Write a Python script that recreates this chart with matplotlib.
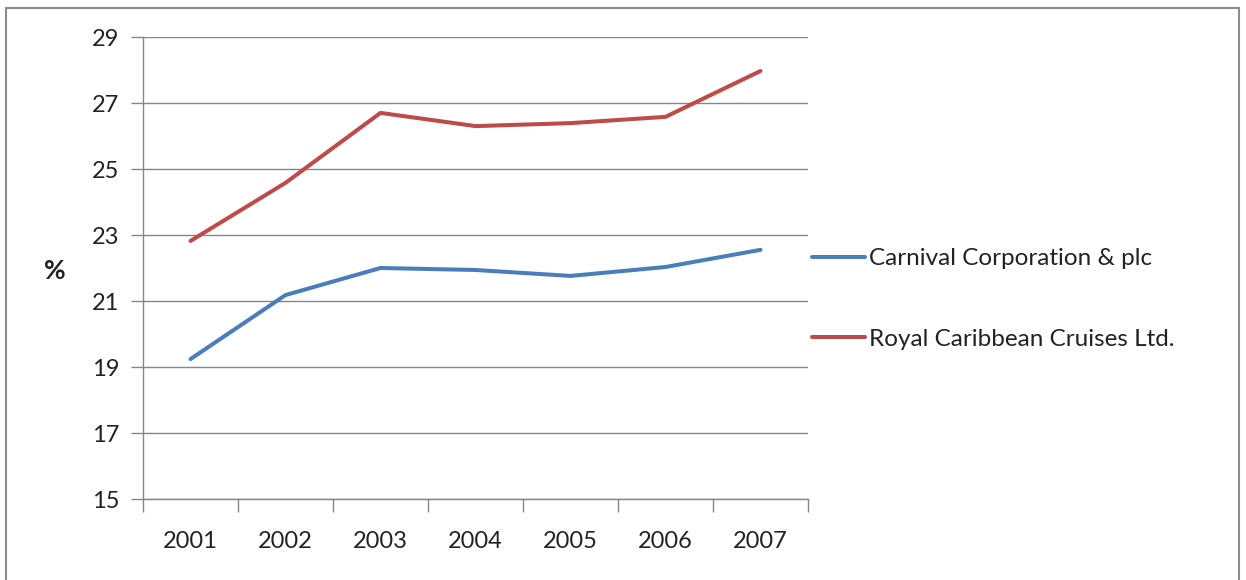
import matplotlib
matplotlib.use("Agg")
import matplotlib.pyplot as plt
from matplotlib.patches import Rectangle
from matplotlib.ticker import FixedLocator

years = ["2001", "2002", "2003", "2004", "2005", "2006", "2007"]
carnival = [19.24, 21.18, 22.0, 21.94, 21.76, 22.03, 22.55]
royal = [22.82, 24.58, 26.7, 26.3, 26.39, 26.58, 27.97]
series_names = ["Carnival Corporation & plc", "Royal Caribbean Cruises Ltd."]
y_ticks = [15, 17, 19, 21, 23, 25, 27, 29]

plt.rcParams['font.family'] = ['Lato', 'DejaVu Sans']

fig = plt.figure(figsize=(12.46, 5.8), dpi=100)
fig.patches.append(Rectangle((6/1246, -0.01), (1239-6)/1246, (580-8)/580 + 0.01,
                             transform=fig.transFigure, fill=False,
                             edgecolor='#8c8c8c', linewidth=1.5))

ax = fig.add_axes([143/1246, 81/580, 665/1246, 462/580])
x = list(range(len(years)))
l1, = ax.plot(x, carnival, color='#4a7ebb', linewidth=2.9, solid_capstyle='round')
l2, = ax.plot(x, royal, color='#be4b48', linewidth=2.9, solid_capstyle='round')

ax.set_xlim(-0.5, len(years) - 0.5)
ax.set_ylim(15, 29)
ax.set_yticks(y_ticks)
ax.set_yticklabels([str(v) for v in y_ticks], fontsize=17, color='#222222')
ax.set_xticks(x)
ax.set_xticklabels(years, fontsize=17, color='#222222')
ax.tick_params(axis='x', which='major', length=0, pad=23)
ax.xaxis.set_minor_locator(FixedLocator([i - 0.5 for i in range(len(years) + 1)]))
ax.tick_params(axis='x', which='minor', length=9, color='#868686', width=1)
ax.tick_params(axis='y', length=9, color='#868686', width=1, pad=8)
ax.grid(axis='y', color='#868686', linewidth=1)
ax.set_axisbelow(True)
for s in ['top', 'right']:
    ax.spines[s].set_visible(False)
for s in ['left', 'bottom']:
    ax.spines[s].set_color('#868686')
    ax.spines[s].set_linewidth(1)

fig.text(55/1246, 1 - 271/580, '%', fontsize=19, fontweight='bold', ha='center', va='center', color='#222222')

leg = fig.legend([l1, l2], series_names, loc='upper left',
                 bbox_to_anchor=(812/1246, 1 - 248/580),
                 frameon=False, fontsize=17.5, handlelength=2.2, handletextpad=0.15,
                 labelspacing=2.45, borderaxespad=0, borderpad=0)
for t in leg.get_texts():
    t.set_color('#222222')

fig.savefig('out.png', dpi=100)
